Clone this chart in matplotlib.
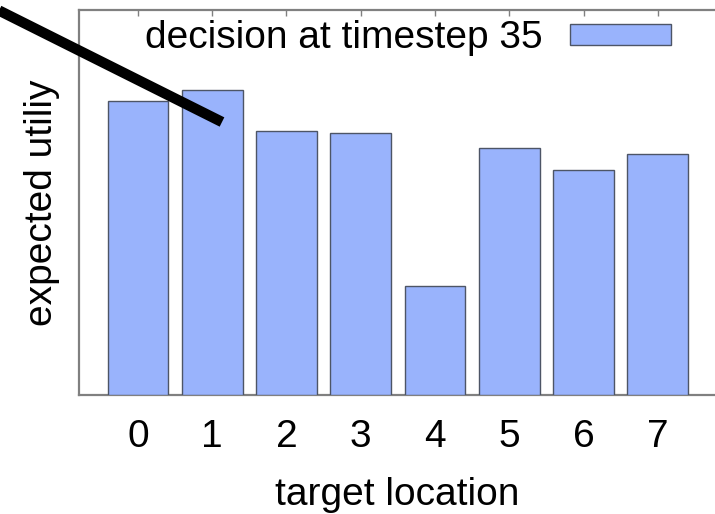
import matplotlib.pyplot as plt
from matplotlib.lines import Line2D

plt.rcParams['font.family'] = ['Liberation Sans', 'DejaVu Sans']

# data (arbitrary units, no y scale shown)
locations = [0, 1, 2, 3, 4, 5, 6, 7]
tick_labels = ['0', '1', '2', '3', '4', '5', '6', '7']
utility = [0.764, 0.792, 0.686, 0.681, 0.283, 0.642, 0.584, 0.626]
series_name = 'decision at timestep 35'

W, H = 715, 514
fs = 28
fig = plt.figure(figsize=(W / 100, H / 100), dpi=100)
ax = fig.add_axes([79 / W, 1 - 395 / H, 1 - 79 / W, 385 / H])

ax.bar(locations, utility, width=0.82, color='#99b3fc', edgecolor='#4d5566',
       linewidth=1.0, label=series_name, zorder=3)

ax.set_xlim(-0.794, 7.77)
ax.set_ylim(0, 1)
ax.set_xticks(locations)
ax.set_xticklabels(tick_labels)
ax.set_yticks([])

for side in ['left', 'top', 'bottom']:
    ax.spines[side].set_color('#808080')
    ax.spines[side].set_linewidth(1.6)
ax.spines['right'].set_visible(False)

ax.tick_params(axis='x', bottom=False, top=True, direction='in', length=4,
               width=1.0, color='#808080', labelsize=fs, pad=17)

ax.set_xlabel('target location', fontsize=fs, labelpad=16)
ax.set_ylabel('expected utiliy', fontsize=fs, labelpad=14)

leg = ax.legend(loc='center right', bbox_to_anchor=(671 / W, 1 - 38 / H),
                bbox_transform=fig.transFigure, frameon=False, fontsize=fs,
                markerfirst=False, borderpad=0, borderaxespad=0,
                handlelength=2.6, handleheight=0.46, handletextpad=0.7)

# thick black pointer line across the top-left corner
fig.add_artist(Line2D([-10 / W, 222 / W], [1 - 6 / H, 1 - 122 / H],
                      transform=fig.transFigure, color='black', linewidth=7.5,
                      solid_capstyle='butt', zorder=10))

plt.savefig('out.png', dpi=100)
